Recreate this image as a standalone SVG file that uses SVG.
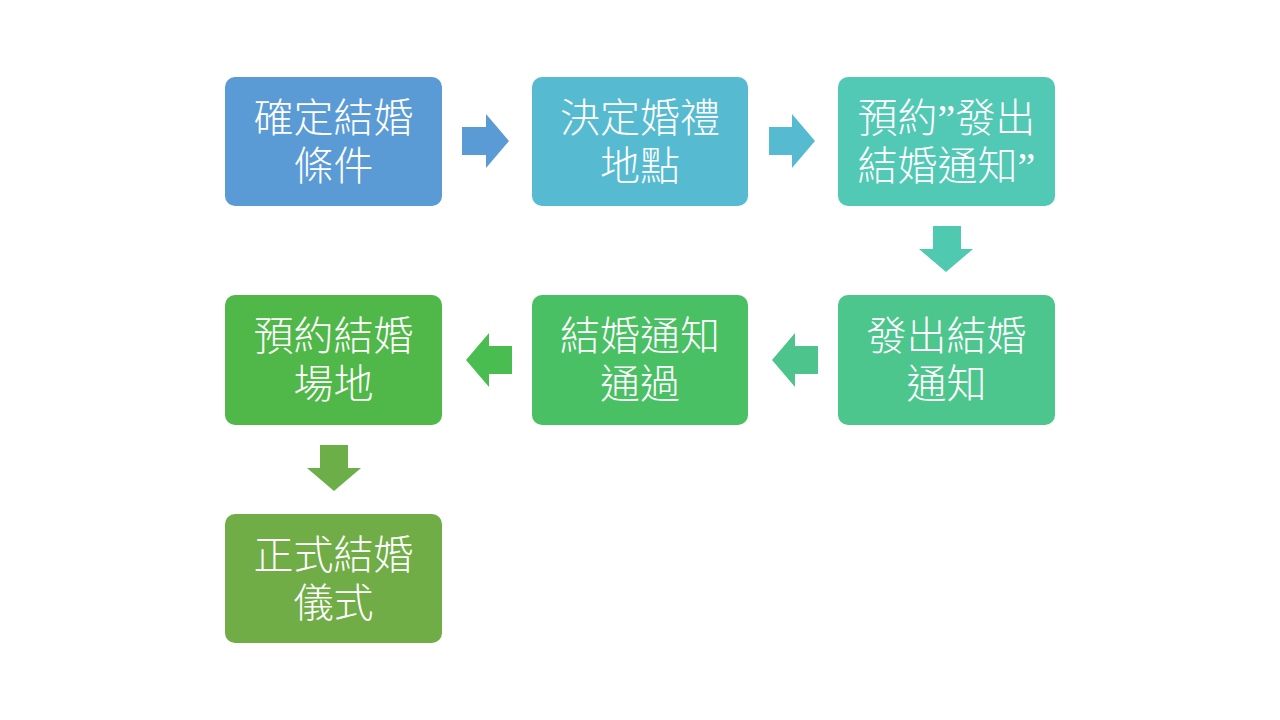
<svg xmlns="http://www.w3.org/2000/svg" width="1280" height="720" viewBox="0 0 1280 720">
<style>
.t{font-family:"Noto Sans CJK TC","Noto Sans CJK SC",sans-serif;font-size:40px;font-weight:300;fill:#fff;text-anchor:middle}
.q{font-family:"Liberation Serif",serif}
</style>
<rect width="1280" height="720" fill="#fff"/>
<g id="connectors">
<polygon points="462,127 486,127 486,114 509,141 486,168 486,155 462,155" fill="#5B9BD5"/>
<polygon points="769,127 792,127 792,114 815,141 792,168 792,155 769,155" fill="#56BBD0"/>
<polygon points="933,226 961,226 961,249 973,249 946,272 919,249 933,249" fill="#4FC9B0"/>
<polygon points="818,346 795,346 795,333 772,360 795,387 795,374 818,374" fill="#4CC48C"/>
<polygon points="512,346 489,346 489,333 466,360 489,387 489,374 512,374" fill="#4ABD50"/>
<polygon points="320,445 348,445 348,468 361,468 334,491 307,468 320,468" fill="#6CAE47"/>
</g>
<g id="n1"><rect x="225" y="77" width="217" height="129" rx="10" fill="#5B9BD5"/><text class="t" x="333.5" y="132">確定結婚</text><text class="t" x="333.5" y="180">條件</text></g>
<g id="n2"><rect x="532" y="77" width="216" height="129" rx="10" fill="#56BBD0"/><text class="t" x="640" y="132">決定婚禮</text><text class="t" x="640" y="180">地點</text></g>
<g id="n3"><rect x="838" y="77" width="217" height="129" rx="10" fill="#51C9B4"/><text class="t" x="946.5" y="132">預約<tspan class="q">”</tspan>發出</text><text class="t" x="946.5" y="180">結婚通知<tspan class="q">”</tspan></text></g>
<g id="n4"><rect x="838" y="295" width="217" height="130" rx="10" fill="#4DC68E"/><text class="t" x="946.5" y="350">發出結婚</text><text class="t" x="946.5" y="398">通知</text></g>
<g id="n5"><rect x="532" y="295" width="216" height="130" rx="10" fill="#49C063"/><text class="t" x="640" y="350">結婚通知</text><text class="t" x="640" y="398">通過</text></g>
<g id="n6"><rect x="225" y="295" width="217" height="130" rx="10" fill="#50B848"/><text class="t" x="333.5" y="350">預約結婚</text><text class="t" x="333.5" y="398">場地</text></g>
<g id="n7"><rect x="225" y="514" width="217" height="129" rx="10" fill="#70AD47"/><text class="t" x="333.5" y="569">正式結婚</text><text class="t" x="333.5" y="617">儀式</text></g>
</svg>
